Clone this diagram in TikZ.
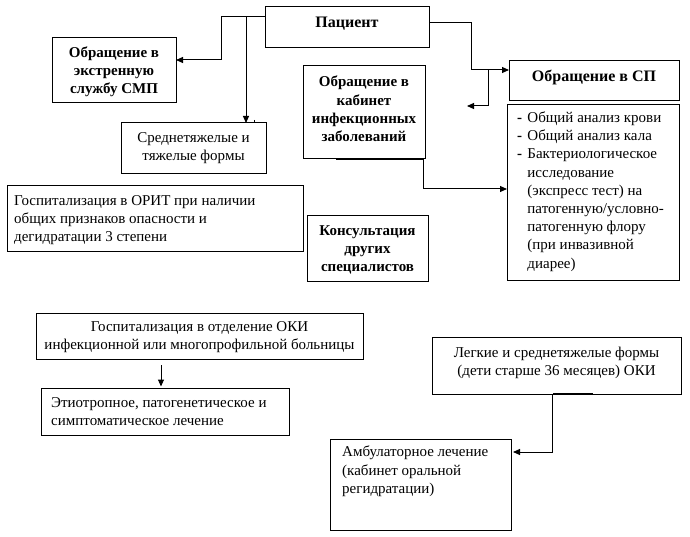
\documentclass[tikz,border=0pt]{standalone}
\usepackage{fontspec}
\setmainfont{Liberation Serif}
\usetikzlibrary{arrows.meta,calc}
\tikzset{
  box/.style={draw, line width=1pt, inner sep=0pt, outer sep=0pt},
  txt/.style={inner sep=0pt, font=\fontsize{15}{18.2}\selectfont},
  btxt/.style={inner sep=0pt, font=\fontsize{15}{18.2}\selectfont\bfseries},
  conn/.style={line width=1pt},
  arr/.style={line width=1pt, -{Triangle[length=7pt,width=6pt]}},
}
\newcommand\dsh{\textbf{-}\hspace{0.35em}}
\newcommand\ind{\hphantom{\textbf{-}\hspace{0.35em}}}
\begin{document}
\begin{tikzpicture}[x=1pt,y=-1pt]
\useasboundingbox (0,0) rectangle (690,537);
% boxes
\node[box, minimum width=164pt, minimum height=41pt] (pac) at (347,27.5) {};
\node[box, minimum width=124pt, minimum height=65pt] (smp) at (114,70.5) {};
\node[box, minimum width=145pt, minimum height=51pt] (sred) at (193.5,148.5) {};
\node[box, minimum width=122pt, minimum height=93pt] (kab) at (364,112.5) {};
\node[box, minimum width=170pt, minimum height=40pt] (sp) at (594,81) {};
\node[box, minimum width=172pt, minimum height=175pt] (list) at (593,192.5) {};
\node[box, minimum width=296pt, minimum height=65pt] (orit) at (155,218.5) {};
\node[box, minimum width=121pt, minimum height=65pt] (kons) at (367.5,248.5) {};
\node[box, minimum width=327pt, minimum height=46pt] (gosp) at (199.5,336) {};
\node[box, minimum width=248pt, minimum height=47pt] (etio) at (165,411.5) {};
\node[box, minimum width=249pt, minimum height=57pt] (legk) at (556.5,365.5) {};
\node[box, minimum width=181pt, minimum height=91pt] (amb) at (420.5,484.5) {};
% texts
\node[btxt, font=\fontsize{16}{18}\selectfont\bfseries] (tpac) at (347,24) {Пациент};
\node[btxt, align=center] (tsmp) at (114,72) {Обращение в\\экстренную\\службу СМП};
\node[txt, align=center] (tsred) at (193.5,148) {Среднетяжелые и\\тяжелые формы};
\node[btxt, align=center] (tkab) at (364,109) {Обращение в\\кабинет\\инфекционных\\заболеваний};
\node[btxt, font=\fontsize{16}{18}\selectfont\bfseries] (tsp) at (594,77) {Обращение в СП};
\node[txt, align=left, anchor=north west] (tlist) at (517,111.5) {%
\dsh Общий анализ крови\\\dsh Общий анализ кала\\\dsh Бактериологическое\\\ind исследование\\\ind (экспресс тест) на\\\ind патогенную/условно-\\\ind патогенную флору\\\ind (при инвазивной\\\ind диарее)};
\node[txt, align=left, anchor=west] (torit) at (14,220) {Госпитализация в ОРИТ при наличии\\общих признаков опасности и\\дегидратации 3 степени};
\node[btxt, align=center] (tkons) at (367.5,250) {Консультация\\других\\специалистов};
\node[txt, align=center] (tgosp) at (199.5,337) {Госпитализация в отделение ОКИ\\инфекционной или многопрофильной больницы};
\node[txt, align=left, anchor=west] (tetio) at (51,412) {Этиотропное, патогенетическое и\\симптоматическое лечение};
\node[txt, align=center] (tlegk) at (556.5,362.5) {Легкие и среднетяжелые формы\\(дети старше 36 месяцев) ОКИ};
\node[txt, align=left, anchor=north west] (tamb) at (342,446) {Амбулаторное лечение\\(кабинет оральной\\регидратации)};
% junction coordinates
\coordinate (j1) at (221,17);
\coordinate (j2) at (246,17);
\coordinate (j3) at (471,23);
\coordinate (j4) at (488,70);
\coordinate (free1) at (467,106);
% connectors
\draw[arr] ([yshift=10.5pt]pac.west) -- (j1) -- (221,60) -- (smp.east |- 0,60);
\draw[arr] (j2) -- (sred.north -| j2);
\draw[conn] (254,120) -- (254,123);
\draw[arr] ([yshift=4.5pt]pac.east) -- (j3) -- (j3 |- j4) -- (sp.west |- j4);
\draw[arr] (j4) -- (j4 |- free1) -- (free1);
\draw[line width=1.6pt] (336,159) -- (423,159);
\draw[arr] (kab.south -| 423,0) -- (423,189) -- (list.west |- 0,189);
\draw[arr, shorten <=6pt, shorten >=1.5pt] (gosp.south -| 161,0) -- (etio.north -| 161,0);
\draw[line width=1.6pt] (553,394) -- (593,394);
\draw[arr, shorten >=2pt] (legk.south -| 552,0) -- (552,452) -- (amb.east |- 0,452);
\end{tikzpicture}
\end{document}
